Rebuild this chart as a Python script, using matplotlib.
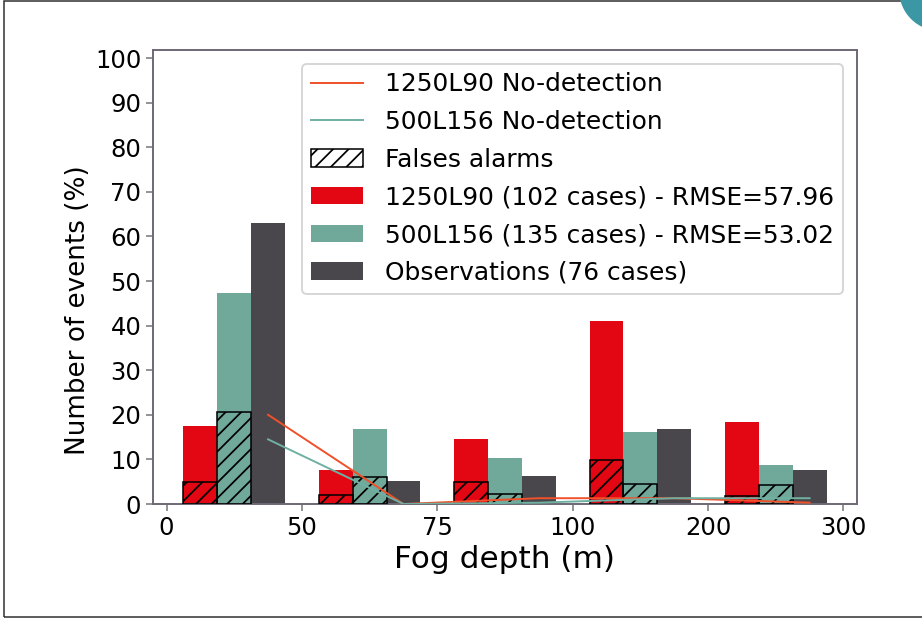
import matplotlib
matplotlib.use('Agg')
import matplotlib.pyplot as plt
import numpy as np
from matplotlib.patches import Patch, Rectangle, Circle
from matplotlib.lines import Line2D
from matplotlib.transforms import IdentityTransform

# Distribucion de eventos de niebla por clase de espesor
depth_ticks = ['0', '50', '75', '100', '200', '300']
model_1250 = [17.5, 7.6, 14.5, 41.1, 18.4]
model_500 = [47.3, 16.9, 10.3, 16.1, 8.8]
observations = [62.9, 5.2, 6.3, 16.9, 7.6]
false_1250 = [5.0, 2.0, 5.0, 9.9, 1.8]
false_500 = [20.7, 6.1, 2.2, 4.4, 4.3]
nodet_1250 = [20.0, 0.0, 1.3, 1.3, 0.3]
nodet_500 = [14.5, 0.0, 0.3, 1.3, 1.3]

RED = '#e30613'
TEAL = '#70a89a'
DARK = '#49474b'
LINE_RED = '#f0502a'
LINE_TEAL = '#6fb0a2'

plt.rcParams['hatch.color'] = 'black'
plt.rcParams['hatch.linewidth'] = 0.9

dpi = 140
fig = plt.figure(figsize=(922 / dpi, 619 / dpi), dpi=dpi)
ax = fig.add_axes([153 / 922, 1 - 504 / 619, (857 - 153) / 922, (504 - 50) / 619])

x = np.arange(len(model_1250))
w = 0.25
ax.bar(x + 0.25, model_1250, width=w, color=RED, zorder=2)
ax.bar(x + 0.50, model_500, width=w, color=TEAL, zorder=2)
ax.bar(x + 0.75, observations, width=w, color=DARK, zorder=2)

# falsas alarmas rayadas encima de cada modelo
ax.bar(x + 0.25, false_1250, width=w, facecolor='none', edgecolor='black',
       hatch='///', linewidth=0.8, zorder=3)
ax.bar(x + 0.50, false_500, width=w, facecolor='none', edgecolor='black',
       hatch='///', linewidth=0.8, zorder=3)

ax.plot(x + 0.75, nodet_1250, color=LINE_RED, lw=1.0, zorder=4)
ax.plot(x + 0.75, nodet_500, color=LINE_TEAL, lw=1.0, zorder=4)

ax.set_xlim(-0.1, 5.1)
ax.set_ylim(0, 101.8)
ax.set_xticks(np.arange(len(depth_ticks)))
ax.set_xticklabels(depth_ticks)
ax.set_yticks(np.arange(0, 101, 10))
ax.tick_params(labelsize=12.5, color='#777777', length=3.5, width=0.8, pad=2.5)
for s in ax.spines.values():
    s.set_color('#6e6874')
    s.set_linewidth(1.0)

ax.set_xlabel('Fog depth (m)', fontsize=16, labelpad=3)
ax.set_ylabel('Number of events (%)', fontsize=13.5)
ax.yaxis.set_label_coords(-0.088, 0.427)

handles = [
    Line2D([], [], color=LINE_RED, lw=1.0),
    Line2D([], [], color=LINE_TEAL, lw=1.0),
    Patch(facecolor='white', edgecolor='black', hatch='///', linewidth=0.8),
    Patch(facecolor=RED),
    Patch(facecolor=TEAL),
    Patch(facecolor=DARK),
]
labels = [
    '1250L90 No-detection',
    '500L156 No-detection',
    'Falses alarms',
    '1250L90 (102 cases) - RMSE=57.96',
    '500L156 (135 cases) - RMSE=53.02',
    'Observations (76 cases)',
]
ax.legend(handles, labels, loc='upper right', fontsize=12.8, handlelength=2.1,
          handletextpad=0.9, labelspacing=0.55, borderpad=0.35,
          borderaxespad=0.55)

# marco de la pagina y marca circular
fig.patches.append(Rectangle((3.5 / 922, 2 / 619), 1.2, 616 / 619,
                             transform=fig.transFigure, fill=False,
                             edgecolor='#333333', linewidth=0.8))
fig.patches.append(Circle((940, 629), 40, transform=IdentityTransform(),
                          color='#3a97a3'))

fig.savefig('out.png', dpi=dpi)
